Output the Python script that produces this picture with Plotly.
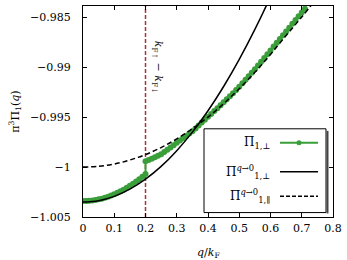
import plotly.graph_objects as go

# ---- data ----
q_green = [round(0.01 * i, 2) for i in range(0, 21)] + [round(0.01 * i, 2) for i in range(20, 72)]
pi_perp = [
    -1.00340, -1.00339, -1.00337, -1.00334, -1.00329, -1.00323, -1.00316, -1.00307,
    -1.00297, -1.00285, -1.00273, -1.00258, -1.00243, -1.00226, -1.00208, -1.00188,
    -1.00167, -1.00145, -1.00121, -1.00096, -1.00070,
    -0.99940, -0.99928, -0.99915, -0.99901, -0.99886, -0.99870, -0.99848, -0.99826,
    -0.99803, -0.99780, -0.99756, -0.99733, -0.99710, -0.99687, -0.99664, -0.99640,
    -0.99612, -0.99583, -0.99554, -0.99525, -0.99495, -0.99467, -0.99438, -0.99409,
    -0.99380, -0.99350, -0.99320, -0.99290, -0.99259, -0.99227, -0.99195, -0.99160,
    -0.99125, -0.99090, -0.99055, -0.99020, -0.98982, -0.98944, -0.98906, -0.98868,
    -0.98830, -0.98792, -0.98754, -0.98716, -0.98678, -0.98640, -0.98602, -0.98564,
    -0.98526, -0.98488, -0.98450, -0.98412,
]

q_lim = [0.0, 0.05, 0.10, 0.15, 0.20, 0.25, 0.30, 0.35, 0.40, 0.45, 0.50, 0.55, 0.60, 0.65, 0.70, 0.75]
pi_perp_q0 = [-1.00350, -1.00336, -1.00293, -1.00221, -1.00121, -0.99993, -0.99835, -0.99649,
              -0.99435, -0.99192, -0.98920, -0.98620, -0.98291, -0.97930, -0.97550, -0.97130]
pi_par_q0 = [-1.00000, -0.99992, -0.99969, -0.99929, -0.99874, -0.99804, -0.99717, -0.99615,
             -0.99498, -0.99364, -0.99215, -0.99050, -0.98870, -0.98680, -0.98495, -0.98300]

q_split = 0.2
x_ticks = [0, 0.1, 0.2, 0.3, 0.4, 0.5, 0.6, 0.7, 0.8]
x_tick_text = ["0", "0.1", "0.2", "0.3", "0.4", "0.5", "0.6", "0.7", "0.8"]
y_ticks = [-1.005, -1.0, -0.995, -0.99, -0.985]
y_tick_text = ["\u22121.005", "\u22121", "\u22120.995", "\u22120.99", "\u22120.985"]

GREEN = "#3a9e3a"
RED = "#a8353a"
FONT = "DejaVu Serif"

fig = go.Figure()
fig.add_trace(go.Scatter(x=q_green, y=pi_perp, mode="lines+markers",
                         line=dict(color=GREEN, width=2),
                         marker=dict(color=GREEN, size=6), showlegend=False))
fig.add_trace(go.Scatter(x=q_lim, y=pi_perp_q0, mode="lines", line_shape="spline",
                         line=dict(color="black", width=1.5), showlegend=False))
fig.add_trace(go.Scatter(x=q_lim, y=pi_par_q0, mode="lines", line_shape="spline",
                         line=dict(color="black", width=1.5, dash="5px,3px"), showlegend=False))

# vertical marker at k_F_up - k_F_down
fig.add_shape(type="line", xref="x", yref="paper", x0=q_split, x1=q_split, y0=0, y1=1,
              line=dict(color=RED, width=1.5, dash="4px,2px"), layer="below")
fig.add_annotation(x=0.24, y=-0.98993, xref="x", yref="y", showarrow=False, textangle=90,
                   text="<i>k</i><sub>F\u2191</sub> \u2212 <i>k</i><sub>F\u2193</sub>",
                   font=dict(family=FONT, size=11, color="#222"))

# custom legend (text left, sample right)
lx0, lx1, ly0, ly1 = 0.484, 0.972, 0.021, 0.418
fig.add_shape(type="rect", xref="paper", yref="paper", x0=lx0, x1=lx1, y0=ly0, y1=ly1,
              line=dict(color="black", width=1), fillcolor="white", layer="above")
fig.add_shape(type="line", xref="paper", yref="paper", x0=lx1 + 0.006, x1=lx1 + 0.006,
              y0=ly0 - 0.004, y1=ly1 - 0.01, line=dict(color="#444", width=2), layer="above")
entries = [
    ("\u03a0<sub>1,\u22a5</sub>", 0.352, dict(color=GREEN, width=2), True),
    ("\u03a0<sup><i>q</i>\u21920</sup><sub>1,\u22a5</sub>", 0.215, dict(color="black", width=1.5), False),
    ("\u03a0<sup><i>q</i>\u21920</sup><sub>1,\u2225</sub>", 0.098, dict(color="black", width=1.5, dash="4px,2px"), False),
]
for text, yy, ln, mk in entries:
    fig.add_annotation(x=0.756, y=yy, xref="paper", yref="paper", showarrow=False,
                       xanchor="right", yanchor="middle", text=text,
                       font=dict(family=FONT, size=12, color="black"))
    fig.add_shape(type="line", xref="paper", yref="paper", x0=0.788, x1=0.94, y0=yy, y1=yy,
                  line=ln, layer="above")
    if mk:
        fig.add_shape(type="circle", xref="paper", yref="paper", x0=0.854, x1=0.874,
                      y0=yy - 0.012, y1=yy + 0.012, fillcolor=GREEN, line=dict(color=GREEN, width=0),
                      layer="above")

# x-axis title placed as annotation below the tick labels
fig.add_annotation(x=0.5, y=-0.1726, xref="paper", yref="paper", showarrow=False,
                   yanchor="middle", text="<i>q</i>/<i>k</i><sub>F</sub>",
                   font=dict(family=FONT, size=11, color="black"))

axis_common = dict(showline=True, linecolor="black", linewidth=1, mirror="ticks",
                   ticks="inside", ticklen=4, tickcolor="black", showgrid=False, zeroline=False,
                   automargin=False, tickfont=dict(family=FONT, size=11, color="black"))
fig.update_xaxes(range=[0, 0.8], tickvals=x_ticks, ticktext=x_tick_text, ticklabelstandoff=1,
                 **axis_common)
fig.update_yaxes(range=[-1.005, -0.98385], tickvals=y_ticks, ticktext=y_tick_text, ticklabelstandoff=9,
                 title=dict(text="\u03c0<sup>3</sup>\u03a0<sub>1</sub>(<i>q</i>)", font=dict(family=FONT, size=11), standoff=8),
                 **axis_common)
fig.update_layout(width=347, height=260, margin=dict(l=83, r=14, t=6, b=43, autoexpand=False),
                  plot_bgcolor="white", paper_bgcolor="white", showlegend=False,
                  font=dict(family=FONT, color="black"))
fig.write_html("out.html", config={"displayModeBar": False},
               post_script="document.body.style.margin='0';")
